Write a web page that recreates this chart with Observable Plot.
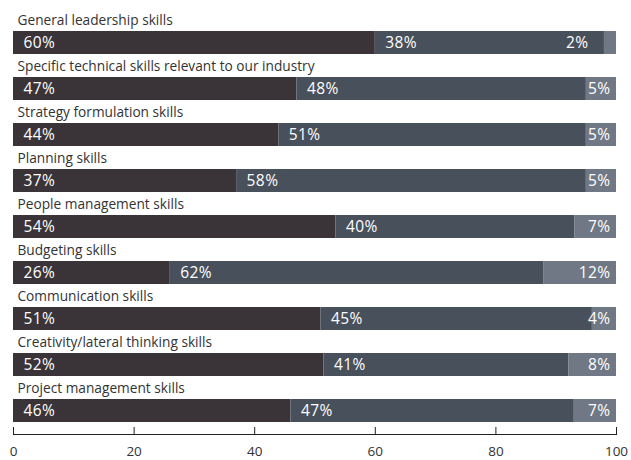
<!DOCTYPE html>
<html>
<head>
<meta charset="utf-8">
<script src="https://cdn.jsdelivr.net/npm/d3@7"></script>
<script src="https://cdn.jsdelivr.net/npm/@observablehq/plot@0.6"></script>
<style>
  html, body { margin: 0; padding: 0; background: #fff; }
  #chart svg { display: block; }
  #chart .pct text { letter-spacing: 0.4px; }
</style>
</head>
<body>
<div id="chart"></div>
<script>
const categories = [
  "General leadership skills",
  "Specific technical skills relevant to our industry",
  "Strategy formulation skills",
  "Planning skills",
  "People management skills",
  "Budgeting skills",
  "Communication skills",
  "Creativity/lateral thinking skills",
  "Project management skills"
];
const seriesNames = ["first", "second", "third"];
const firstValues  = [60, 47, 44, 37, 54, 26, 51, 52, 46];
const secondValues = [38, 48, 51, 58, 40, 62, 45, 41, 47];
const thirdValues  = [2, 5, 5, 5, 7, 12, 4, 8, 7];
const xTicks = [0, 20, 40, 60, 80, 100];
const colors = ["#3a3439", "#48505c", "#6f7884"];

const valuesBySeries = [firstValues, secondValues, thirdValues];
const table = [];
categories.forEach((c, i) => {
  seriesNames.forEach((s, j) => {
    table.push({category: c, series: s, value: valuesBySeries[j][i]});
  });
});

const W = 631, H = 460;
const stackOpts = {x: "value", y: "category", z: "series", offset: "normalize"};
const font = "'Open Sans', sans-serif";
const pctStyle = {fill: "#fff", fontSize: 15.5, fontWeight: 500, className: "pct"};

const chart = Plot.plot({
  width: W,
  height: H,
  marginLeft: 13,
  marginRight: 15,
  marginTop: 29,
  marginBottom: 26,
  style: {fontFamily: font, background: "#fff"},
  x: {domain: [0, 1]},
  y: {domain: categories, range: [29, 425], paddingInner: 0.495, paddingOuter: 0, axis: null},
  color: {domain: seriesNames, range: colors},
  marks: [
    Plot.barX(table, Plot.stackX({...stackOpts, fill: "series"})),
    // labels for first and second series
    Plot.text(table, Plot.stackX1({
      ...stackOpts,
      ...pctStyle,
      text: d => d.series === "third" ? null : d.value + "%",
      textAnchor: "start",
      dx: 10
    })),
    // labels for third series (right-aligned at bar end)
    Plot.text(table, Plot.stackX2({
      ...stackOpts,
      ...pctStyle,
      text: d => d.series === "third" && d.value > 2 ? d.value + "%" : null,
      textAnchor: "end",
      dx: -6
    })),
    // tiny third-series label placed left of its segment
    Plot.text(table, Plot.stackX1({
      ...stackOpts,
      ...pctStyle,
      text: d => d.series === "third" && d.value <= 2 ? d.value + "%" : null,
      textAnchor: "end",
      dx: -16
    })),
    // category labels above bars
    Plot.text(categories, {
      x: () => 0,
      y: d => d,
      text: d => d,
      textAnchor: "start",
      lineAnchor: "bottom",
      dx: 4,
      dy: -18,
      fill: "#333",
      fontSize: 13.7
    }),
    // axis
    Plot.frame({anchor: "bottom", stroke: "#222"}),
    Plot.tickX(xTicks.map(d => d / 100), {
      x: d => d,
      stroke: "#222",
      insetTop: (H - 29 - 26) - 7
    }),
    Plot.axisX({
      ticks: xTicks.map(d => d / 100),
      tickFormat: d => Math.round(d * 100),
      tickSize: 0,
      tickPadding: 12,
      label: null,
      fontSize: 13.5,
      fill: "#333"
    })
  ]
});
document.getElementById("chart").appendChild(chart);
</script>
</body>
</html>
